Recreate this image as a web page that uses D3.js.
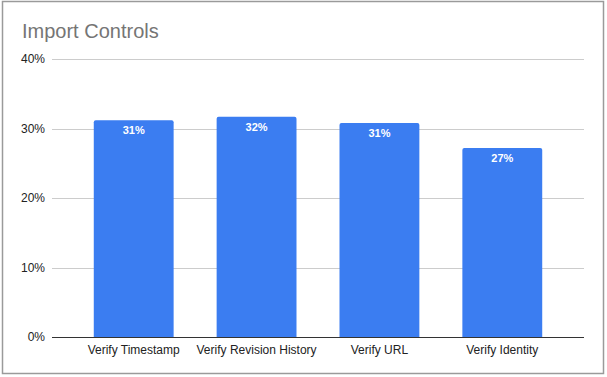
<!DOCTYPE html>
<html lang="en">
  <head>
    <meta charset="UTF-8" />
    <title>Import Controls</title>
    <script src="https://d3js.org/d3.v7.min.js"></script>
    <style>
      body { margin: 0; background: #fff; }
      text { font-family: "Liberation Sans", Arial, sans-serif; }
    </style>
  </head>
  <body>
    <svg id="chart" width="607" height="377"></svg>
    <script>
      const categories = ["Verify Timestamp", "Verify Revision History", "Verify URL", "Verify Identity"];
      const values = [31.2, 31.7, 30.8, 27.2];
      const valueLabels = ["31%", "32%", "31%", "27%"];
      const yTicks = [0, 10, 20, 30, 40];

      const svg = d3.select("#chart");

      // frame around the chart
      svg.append("rect")
        .attr("x", 2.5).attr("y", 1.5)
        .attr("width", 601).attr("height", 372)
        .attr("fill", "#fff")
        .attr("stroke", "#9a9a9a")
        .attr("stroke-width", 1.5);

      svg.append("text")
        .attr("x", 22).attr("y", 38)
        .attr("font-size", 20)
        .attr("fill", "#757575")
        .text("Import Controls");

      const x = d3.scaleBand()
        .domain(categories)
        .range([52, 584])
        .paddingInner(0.35)
        .paddingOuter(0.34);

      const y = d3.scaleLinear().domain([0, 40]).range([337, 59]);

      // gridlines
      svg.append("g")
        .selectAll("line")
        .data(yTicks.filter((d) => d > 0))
        .join("line")
        .attr("x1", 52).attr("x2", 584)
        .attr("y1", (d) => Math.round(y(d)) + 0.5)
        .attr("y2", (d) => Math.round(y(d)) + 0.5)
        .attr("stroke", "#cccccc");

      // y labels
      svg.append("g")
        .selectAll("text")
        .data(yTicks)
        .join("text")
        .attr("x", 45)
        .attr("y", (d) => y(d) + 4)
        .attr("text-anchor", "end")
        .attr("font-size", 12)
        .attr("fill", "#222")
        .text((d) => d + "%");

      // bars
      svg.append("g")
        .selectAll("path")
        .data(values)
        .join("path")
        .attr("fill", "#3b7df1")
        .attr("d", (d, i) => {
          const x0 = x(categories[i]), w = x.bandwidth();
          const top = y(d), bottom = y(0), r = 2;
          return `M${x0},${bottom}V${top + r}Q${x0},${top} ${x0 + r},${top}` +
            `H${x0 + w - r}Q${x0 + w},${top} ${x0 + w},${top + r}V${bottom}Z`;
        });

      // value labels
      svg.append("g")
        .selectAll("text")
        .data(values)
        .join("text")
        .attr("x", (d, i) => x(categories[i]) + x.bandwidth() / 2)
        .attr("y", (d) => y(d) + 14)
        .attr("text-anchor", "middle")
        .attr("font-size", 11)
        .attr("font-weight", "bold")
        .attr("fill", "#fff")
        .text((d, i) => valueLabels[i]);

      // baseline
      svg.append("line")
        .attr("x1", 52).attr("x2", 584)
        .attr("y1", y(0) + 0.5).attr("y2", y(0) + 0.5)
        .attr("stroke", "#333")
        .attr("stroke-width", 1);

      // category labels
      svg.append("g")
        .selectAll("text")
        .data(categories)
        .join("text")
        .attr("x", (d) => x(d) + x.bandwidth() / 2)
        .attr("y", 354)
        .attr("text-anchor", "middle")
        .attr("font-size", 12)
        .attr("fill", "#222")
        .text((d) => d);
    </script>
  </body>
</html>
